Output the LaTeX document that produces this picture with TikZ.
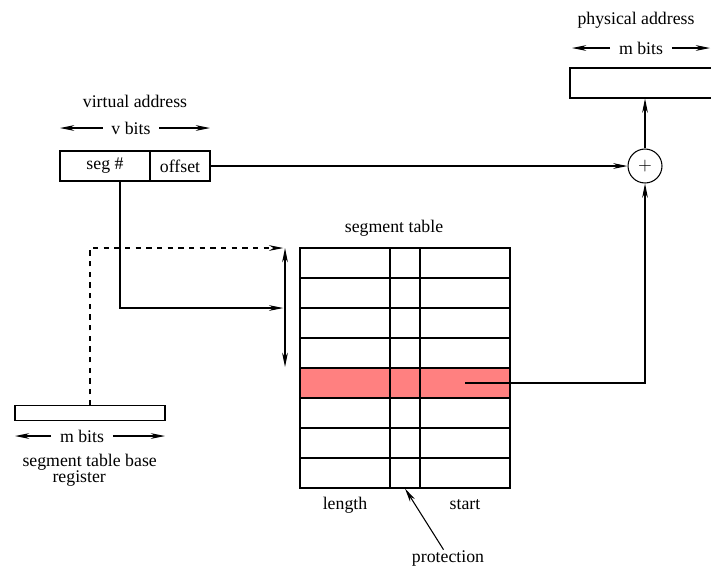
\documentclass[tikz,border=0pt]{standalone}
\usepackage{fontspec}
\setmainfont{Liberation Serif}
\usetikzlibrary{
        arrows,
        arrows.meta,
        positioning
    }
\definecolor{hilite}{HTML}{FF8080}
\tikzset{>={Stealth[length=8pt,width=3.2pt,inset=2.5pt]},auto,node distance=2cm}
\tikzset{
    lbl/.style={inner sep=0pt,font=\fontsize{10}{12}\selectfont},
    bits/.style={lbl,inner xsep=4.7pt},
    bitbox/.style={draw,minimum height=16.875pt,inner sep=0pt,font=\fontsize{10}{12}\selectfont},
    cell/.style={draw,minimum width=#1,minimum height=16.875pt,inner sep=0pt}
}

\begin{document}
\begin{tikzpicture}[x=0.5625pt,y=-0.5625pt,line width=0.6pt]
    \useasboundingbox (0,0) rectangle (711,568);
    % virtual address
    \node[lbl]  (va)    at (135,101)  {virtual address};
    \node[bits] (vbits) at (131,128)  {v bits};
    \coordinate (vl) at (60,128);
    \coordinate (vr) at (210,128);
    \node[bitbox,minimum width=50.625pt] (seg) at (105,166) {seg \#};
    \node[bitbox,minimum width=33.75pt]  (off) [right of=seg,node distance=42.19pt] {offset};
    \draw[->] (vbits) -- (vl);
    \draw[->] (vbits) -- (vr);
    % physical address
    \node[lbl]  (pa)    at (636,20) {physical address};
    \node[bits] (pbits) at (641,48) {m bits};
    \coordinate (pl) at (572,48);
    \coordinate (pr) at (710,48);
    \node[bitbox,minimum width=84.375pt] (pbox) at (645,83) {};
    \node[draw,circle,minimum size=19.1pt,inner sep=0pt] (sum) at (645,166) {$+$};
    \draw[->] (pbits) -- (pl);
    \draw[->] (pbits) -- (pr);
    % segment table base register
    \node[draw,minimum width=84.375pt,minimum height=8.44pt,inner sep=0pt] (stbr) at (90,413) {};
    \node[bits] (sbits) at (82,436) {m bits};
    \coordinate (sl) at (15,436);
    \coordinate (sr) at (165,436);
    \draw[->] (sbits) -- (sl);
    \draw[->] (sbits) -- (sr);
    \node[lbl,align=left,anchor=north west] (stbrl) at (22,454)
        {segment table base\\[-3pt]\hspace*{16.9pt}register};
    % segment table
    \foreach \r/\c in {1/white,2/white,3/white,4/white,5/hilite,6/white,7/white,8/white} {
        \node[cell=50.625pt,fill=\c] (len\r)   at (345,233+30*\r) {};
        \node[cell=16.875pt,fill=\c] (prot\r)  at (405,233+30*\r) {};
        \node[cell=50.625pt,fill=\c] (start\r) at (465,233+30*\r) {};
    }
    \node[lbl] (sttitle) at (394,228) {segment table};
    \node[lbl] (lenl)    at (345,505) {length};
    \node[lbl] (startl)  at (465,505) {start};
    \node[lbl] (protl)   at (448,558) {protection};
    \coordinate (ptop) at (285,248);
    \coordinate (pmid) at (285,308);
    \coordinate (pbot) at (285,367);
    \coordinate (segout) at (120,181);
    % connectors
    \draw[<->] (ptop) -- (pbot);
    \draw[dashed,->] (stbr.north) |- ([xshift=-1pt]ptop);
    \draw[->] (segout) |- ([xshift=-1pt]pmid);
    \draw[->] (off.east) -- (sum.west);
    \draw[->] (sum) -- (pbox);
    \draw[->] (start5.center) -| (sum.south);
    \draw[->] ([xshift=-2.5pt]protl.north) -- (prot8.south);
\end{tikzpicture}
\end{document}
